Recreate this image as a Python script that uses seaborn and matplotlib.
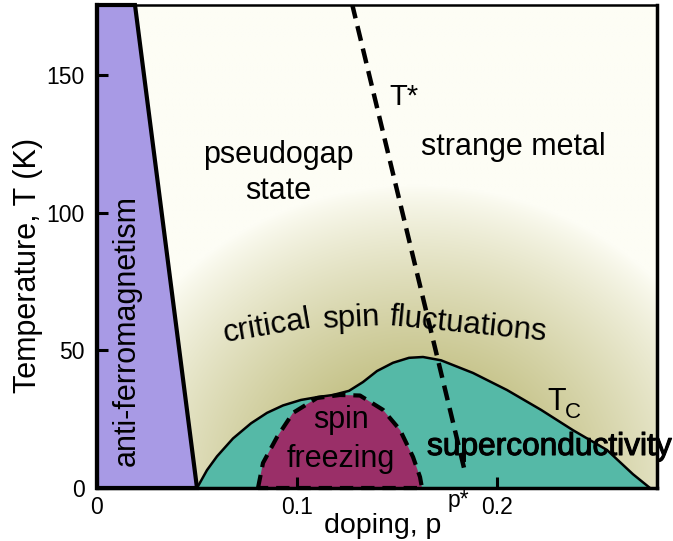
import numpy as np
import matplotlib
matplotlib.use('Agg')
import matplotlib.pyplot as plt
import matplotlib.patheffects as pe
import seaborn as sns

# antiferromagnetic wedge (doping, temperature)
af_p = [0.0, 0.0, 0.019, 0.05]
af_T = [0.0, 175.5, 175.5, 0.0]

# superconducting dome Tc(p)
tc_p = [0.05, 0.055, 0.06, 0.068, 0.077, 0.085, 0.093, 0.102, 0.11, 0.118, 0.126,
        0.133, 0.14, 0.148, 0.156, 0.163, 0.172, 0.188, 0.205, 0.222, 0.238, 0.255,
        0.268, 0.2765]
tc_T = [0.0, 6.5, 11.5, 18.0, 23.5, 27.3, 30.0, 32.0, 33.0, 33.8, 35.3,
        38.5, 42.5, 45.5, 47.3, 47.6, 46.4, 41.8, 35.6, 28.4, 21.0, 13.8,
        5.0, 0.0]

# spin freezing dome
sf_p = [0.0805, 0.083, 0.09, 0.098, 0.11, 0.1215, 0.1315, 0.143, 0.1515, 0.158, 0.1615, 0.1625]
sf_T = [0.0, 9.1, 18.5, 27.3, 32.7, 33.8, 33.6, 28.4, 21.1, 11.3, 4.0, 0.0]

# pseudogap crossover T*
tstar_p = [0.1275, 0.184]
tstar_T = [176.0, 5.8]

x_ticks = [0, 0.1, 0.2]
x_ticklabels = ['0', '0.1', '0.2']
y_ticks = [0, 50, 100, 150]
y_ticklabels = ['0', '50', '100', '150']

sns.set_theme(style='ticks')
plt.rcParams['font.family'] = ['Liberation Sans', 'DejaVu Sans']
plt.rcParams['text.color'] = 'black'
plt.rcParams['axes.labelcolor'] = 'black'
plt.rcParams['xtick.color'] = 'black'
plt.rcParams['ytick.color'] = 'black'

fig = plt.figure(figsize=(6.73, 5.41), dpi=100)
ax = fig.add_axes([97 / 673, 53 / 541, 560 / 673, 483 / 541])

# halo of critical spin fluctuations behind everything
pp, tt = np.meshgrid(np.linspace(0, 0.28, 400), np.linspace(0, 175.5, 400))
r = np.hypot((pp - 0.16) / 0.165, tt / 110.0)
w = (np.clip(1 - r, 0, 1) ** 0.85)[..., None]
bg = np.array([253, 253, 245]) / 255
core = np.array([170, 166, 84]) / 255
ax.imshow(bg + w * (core - bg), extent=[0, 0.28, 0, 175.5], origin='lower',
          aspect='auto', zorder=0, interpolation='bilinear')

# phase regions
ax.fill_between(tc_p, 0, tc_T, color='#55b9a7', lw=0, zorder=1.5)
ax.fill(sf_p, sf_T, color='#9a2f68', lw=0, zorder=1.8)
ax.fill(af_p, af_T, facecolor='#a89ae5', edgecolor='black', lw=3, zorder=2,
        clip_on=False, joinstyle='miter')

sns.lineplot(x=tc_p, y=tc_T, color='black', lw=1.8, ax=ax, sort=False,
             estimator=None, zorder=5)
ax.plot(sf_p + [sf_p[0]], sf_T + [sf_T[0]], color='black', lw=3,
        linestyle=(0, (3.2, 1.9)), zorder=6, clip_on=False)
sns.lineplot(x=tstar_p, y=tstar_T, color='black', lw=3.2, ax=ax, sort=False,
             estimator=None, zorder=6)
ax.lines[-1].set_linestyle((0, (3.4, 1.8)))

ax.set_xlim(0, 0.28)
ax.set_ylim(0, 175.5)
ax.set_xticks(x_ticks, x_ticklabels)
ax.set_yticks(y_ticks, y_ticklabels)
ax.set_axisbelow(False)
ax.tick_params(direction='in', length=8, width=2.2, color='black', labelsize=16.5,
               labelcolor='black')
ax.tick_params(axis='x', pad=6)
ax.tick_params(axis='y', pad=9)
for side, lw in [('left', 3), ('bottom', 2.5), ('right', 2.5), ('top', 1.8)]:
    ax.spines[side].set_linewidth(lw)
    ax.spines[side].set_color('black')

ax.set_xlabel('doping, p', fontsize=20.5, color='black')
ax.set_ylabel('Temperature, T (K)', fontsize=22, color='black')
ax.xaxis.set_label_coords(0.511, -0.052)
ax.yaxis.set_label_coords(-0.096, 0.4617)

# region labels
ax.text(0.0905, 118.1, 'pseudogap', ha='center', va='baseline', fontsize=22)
ax.text(0.0905, 105.0, 'state', ha='center', va='baseline', fontsize=22)
ax.text(0.208, 121.0, 'strange metal', ha='center', va='baseline', fontsize=22)
ax.text(0.146, 139.1, 'T*', ha='left', va='baseline', fontsize=21)
ax.text(0.015, 57.4, 'anti-ferromagnetism', rotation=90, ha='center', va='center',
        fontsize=22, zorder=7)
ax.text(0.064, 53.1, 'critical', rotation=9.7, rotation_mode='anchor',
        ha='left', va='baseline', fontsize=22.5)
ax.text(0.113, 58.0, 'spin', rotation=2.8, rotation_mode='anchor',
        ha='left', va='baseline', fontsize=22.5)
ax.text(0.146, 59.2, 'fluctuations', rotation=-5.7, rotation_mode='anchor',
        ha='left', va='baseline', fontsize=22.5)
ax.text(0.122, 21.8, 'spin', ha='center', va='baseline', fontsize=22, zorder=7)
ax.text(0.122, 7.6, 'freezing', ha='center', va='baseline', fontsize=22, zorder=7)
ax.text(0.165, 12.0, 'superconductivity', ha='left', va='baseline', fontsize=22.8,
        zorder=7, path_effects=[pe.withStroke(linewidth=0.8, foreground='black')])
ax.text(0.225, 28.3, 'T', ha='left', va='baseline', fontsize=22, zorder=7)
ax.text(0.2338, 25.4, 'C', ha='left', va='baseline', fontsize=16, zorder=7)
ax.text(0.1755, -0.5, 'p*', ha='left', va='top', fontsize=16.5, clip_on=False)

fig.savefig('out.png', dpi=100)
